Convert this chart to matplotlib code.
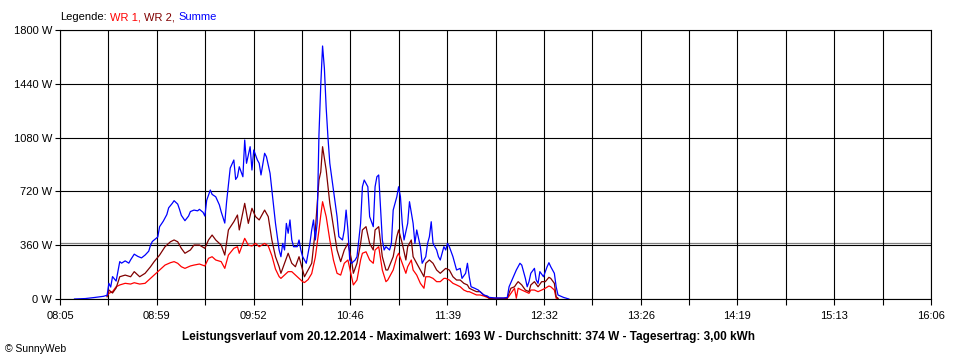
import numpy as np
import matplotlib
matplotlib.use("Agg")
from matplotlib import pyplot as plt

plt.rcParams['font.family'] = ['Liberation Sans', 'DejaVu Sans']

# Summe (blue)
t_summe = ["08:13","08:19","08:24","08:29","08:31","08:32","08:33","08:34","08:36","08:38",
           "08:39","08:41","08:43","08:44","08:46","08:48","08:50","08:52","08:54","08:55",
           "08:56","08:59","09:00","09:02","09:04","09:05","09:07","09:08","09:10","09:11",
           "09:12","09:14","09:16","09:17","09:19","09:21","09:22","09:24","09:25","09:26",
           "09:28","09:29","09:31","09:33","09:34","09:36","09:37","09:38","09:39","09:41",
           "09:42","09:43","09:44","09:46","09:47","09:48","09:50","09:51","09:52","09:54",
           "09:55","09:56","09:58","09:59","10:01","10:02","10:03","10:04","10:05","10:06",
           "10:07","10:08","10:09","10:10","10:11","10:12","10:13","10:14","10:16","10:17",
           "10:18","10:19","10:21","10:22","10:23","10:24","10:25","10:26","10:27","10:28",
           "10:29","10:30","10:31","10:32","10:33","10:34","10:36","10:38","10:39","10:41",
           "10:42","10:43","10:44","10:45","10:46","10:48","10:49","10:51","10:52","10:53",
           "10:55","10:56","10:58","10:59","11:00","11:01","11:02","11:03","11:04","11:05",
           "11:07","11:08","11:09","11:11","11:12","11:13","11:14","11:15","11:17","11:18",
           "11:20","11:21","11:22","11:24","11:25","11:27","11:28","11:29","11:30","11:31",
           "11:33","11:34","11:35","11:37","11:38","11:39","11:40","11:42","11:43","11:44",
           "11:46","11:47","11:49","11:50","11:51","11:52","11:54","11:56","11:59","12:01",
           "12:02","12:05","12:10","12:12","12:13","12:15","12:17","12:19","12:20","12:22",
           "12:23","12:24","12:25","12:27","12:28","12:29","12:30","12:32","12:34","12:35",
           "12:36","12:38","12:39","12:40","12:43","12:46"]
p_summe = [0, 3, 10, 18, 25, 105, 80, 150, 120, 250,
           240, 255, 240, 262, 300, 285, 275, 294, 320, 360,
           385, 415, 484, 520, 565, 610, 640, 658, 635, 600,
           560, 524, 555, 585, 595, 590, 600, 580, 555, 660,
           729, 700, 684, 630, 584, 508, 650, 763, 876, 930,
           800, 818, 885, 818, 1064, 908, 1019, 863, 997, 930,
           908, 830, 975, 952, 841, 729, 618, 506, 417, 328,
           283, 372, 328, 506, 440, 529, 395, 350, 350, 395,
           328, 283, 239, 306, 372, 462, 529, 395, 506, 1097,
           1432, 1693, 1544, 1278, 1077, 908, 729, 551, 417, 395,
           462, 595, 462, 261, 239, 261, 283, 506, 751, 796,
           751, 551, 484, 751, 818, 830, 618, 395, 328, 350,
           328, 372, 595, 684, 751, 684, 506, 395, 506, 651,
           506, 372, 462, 350, 239, 283, 372, 417, 517, 372,
           328, 283, 261, 350, 328, 372, 350, 283, 239, 194,
           205, 138, 172, 239, 149, 82, 72, 60, 27, 20,
           11, 7, 7, 10, 82, 138, 194, 239, 227, 138,
           82, 116, 172, 205, 127, 105, 183, 149, 216, 243,
           216, 172, 82, 27, 11, 0]

# WR 1 (red) and WR 2 (dark red)
t_wr = ["08:31","08:32","08:34","08:36","08:38","08:41","08:44","08:46","08:49","08:52",
        "08:55","08:57","09:00","09:03","09:06","09:08","09:10","09:12","09:14","09:17",
        "09:19","09:22","09:25","09:27","09:29","09:31","09:34","09:36","09:38","09:41",
        "09:43","09:44","09:47","09:49","09:51","09:53","09:55","09:58","10:00","10:02",
        "10:04","10:06","10:07","10:09","10:11","10:13","10:15","10:17","10:19","10:20",
        "10:22","10:24","10:26","10:28","10:29","10:30","10:31","10:32","10:34","10:36",
        "10:38","10:40","10:42","10:44","10:46","10:47","10:49","10:51","10:52","10:54",
        "10:56","10:58","10:59","11:01","11:03","11:05","11:06","11:09","11:11","11:12",
        "11:14","11:16","11:17","11:19","11:20","11:22","11:24","11:26","11:27","11:29",
        "11:31","11:33","11:35","11:37","11:38","11:40","11:42","11:44","11:46","11:48",
        "11:50","11:51","11:53","11:55","11:57","11:59","12:01","12:02","12:10","12:12",
        "12:13","12:14","12:16","12:17","12:18","12:20","12:22","12:24","12:25","12:27",
        "12:29","12:31","12:33","12:35","12:36","12:38","12:39","12:40"]
p_wr1 = [20, 38, 49, 82, 94, 105, 100, 109, 100, 105,
         138, 160, 194, 227, 243, 250, 239, 216, 205, 221,
         227, 234, 221, 272, 283, 261, 250, 205, 294, 339,
         350, 306, 406, 360, 355, 372, 350, 372, 355, 290,
         200, 150, 138, 160, 183, 183, 160, 138, 116, 110,
         130, 170, 280, 460, 560, 651, 600, 551, 395, 261,
         172, 160, 239, 261, 149, 94, 127, 261, 306, 316,
         261, 239, 328, 350, 194, 116, 127, 194, 283, 306,
         239, 172, 216, 261, 194, 160, 105, 72, 149, 149,
         138, 116, 116, 138, 138, 127, 105, 94, 82, 60,
         49, 49, 38, 27, 27, 20, 11, 4, 4, 5,
         20, 38, 72, 5, 72, 60, 49, 38, 60, 60,
         49, 60, 72, 87, 82, 60, 5, 3]
p_wr2 = [15, 60, 40, 74, 149, 160, 149, 183, 149, 172,
         216, 250, 294, 350, 383, 395, 383, 339, 306, 328,
         361, 361, 339, 395, 428, 395, 361, 294, 462, 517,
         562, 462, 640, 506, 607, 551, 529, 595, 551, 395,
         283, 216, 172, 239, 306, 239, 216, 283, 194, 149,
         194, 239, 462, 796, 850, 1019, 940, 863, 640, 484,
         328, 250, 328, 372, 261, 172, 239, 372, 462, 484,
         372, 328, 462, 484, 283, 194, 194, 283, 417, 462,
         372, 261, 350, 395, 283, 239, 194, 149, 239, 261,
         239, 194, 172, 194, 205, 194, 149, 127, 127, 105,
         94, 72, 60, 49, 49, 27, 15, 5, 4, 5,
         40, 72, 82, 100, 116, 94, 60, 49, 94, 116,
         82, 116, 116, 145, 138, 105, 15, 5]

x_labels = ["08:05", "08:59", "09:52", "10:46", "11:39", "12:32", "13:26", "14:19", "15:13", "16:06"]
y_ticks = [0, 360, 720, 1080, 1440, 1800]
average = 374
title = "Leistungsverlauf vom 20.12.2014 - Maximalwert: 1693 W - Durchschnitt: 374 W - Tagesertrag: 3,00 kWh"


def to_min(s):
    h, m = s.split(":")
    return int(h) * 60 + int(m)


ts = [to_min(s) for s in t_summe]
tw = [to_min(s) for s in t_wr]
x0, x1 = to_min(x_labels[0]), to_min(x_labels[-1])

fig = plt.figure(figsize=(9.6, 3.6), dpi=100)
ax = fig.add_axes([60 / 960, 1 - 299 / 360, 871 / 960, 269 / 360])

ax.plot(tw, p_wr1, color="#ff0000", lw=0.9)
ax.plot(tw, p_wr2, color="#800000", lw=0.9)
ax.plot(ts, p_summe, color="#0000ff", lw=0.9)
ax.axhline(average, color="#808080", lw=0.9, zorder=0.5)

grid_x = np.linspace(x0, x1, 19)
ax.set_xlim(x0, x1)
ax.set_ylim(0, 1800)
ax.set_xticks(grid_x[::2])
ax.set_xticklabels(x_labels)
ax.set_xticks(grid_x, minor=True)
ax.set_yticks(y_ticks)
ax.set_yticklabels([f"{v} W" for v in y_ticks])
for gx in grid_x:
    ax.axvline(gx, color="black", lw=0.8, zorder=0.6)
for gy in y_ticks:
    ax.axhline(gy, color="black", lw=0.8, zorder=0.6)

ax.tick_params(axis="both", which="both", direction="out", color="black", width=0.8, labelsize=8)
ax.tick_params(axis="x", which="both", length=4.5, pad=4)
ax.tick_params(axis="y", length=3.6, pad=2)
for sp in ax.spines.values():
    sp.set_linewidth(0.8)
    sp.set_color("black")

fig.text(468 / 960, 1 - 337 / 360, title, ha="center", va="center", fontsize=8.5, fontweight="bold")
fig.text(5 / 960, 1 - 349 / 360, "© SunnyWeb", ha="left", va="center", fontsize=7.5)

# legend line with coloured parts
fig.canvas.draw()
r = fig.canvas.get_renderer()
xp = 60
for s, c in [("Legende:", "black"), ("WR 1,", "#ff0000"), ("WR 2,", "#800000"), ("Summe", "#0000ff")]:
    t = fig.text(xp / 960, 1 - 17 / 360, s, color=c, ha="left", va="center", fontsize=8)
    bb = t.get_window_extent(r)
    xp = bb.x1 + 3.5

fig.savefig("out.png", dpi=100)
